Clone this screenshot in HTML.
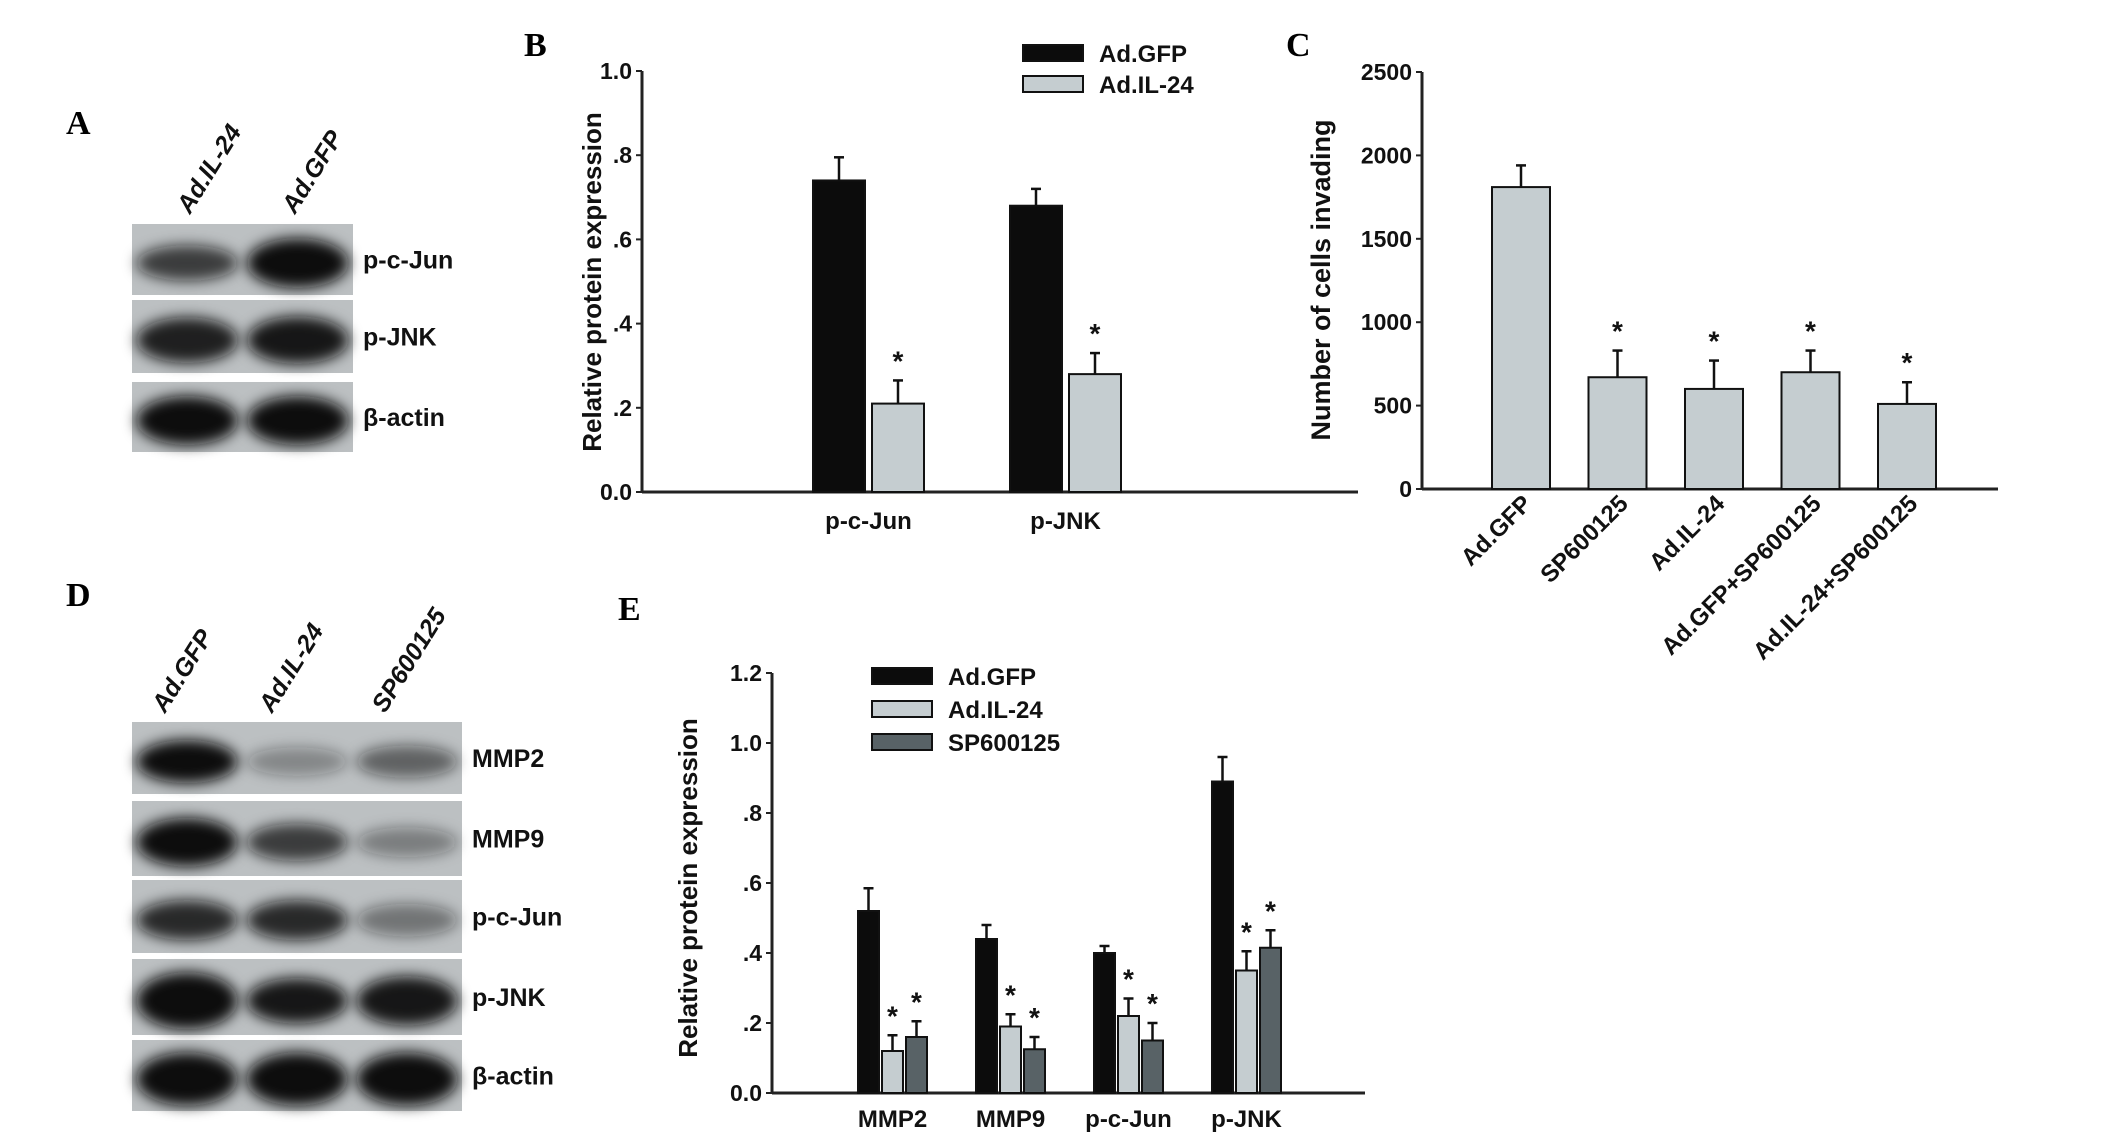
<!DOCTYPE html>
<html><head><meta charset="utf-8">
<style>
html,body{margin:0;padding:0;background:#fff;}
body{width:2126px;height:1143px;position:relative;overflow:hidden;font-family:"Liberation Sans",sans-serif;}
svg text{font-family:"Liberation Sans",sans-serif;font-weight:bold;}
.pl{font-family:"Liberation Serif",serif;font-weight:bold;font-size:34px;}
</style></head>
<body>
<svg id="root" width="2126" height="1143" xmlns="http://www.w3.org/2000/svg">
<defs>
<filter id="blur" x="-30%" y="-60%" width="160%" height="220%"><feGaussianBlur stdDeviation="7"/></filter>
</defs>
<text class="pl" x="66" y="134">A</text>
<text class="pl" x="524" y="56">B</text>
<text class="pl" x="1286" y="56">C</text>
<text class="pl" x="66" y="606">D</text>
<text class="pl" x="618" y="620">E</text>
<g id="blots"></g>
<g id="chartB"></g>
<g id="chartC"></g>
<g id="chartE"></g>
</svg>
<script>
// ---- data ----
const bCategories = ["p-c-Jun","p-JNK"];
const bSeriesNames = ["Ad.GFP","Ad.IL-24"];
const bGFP = [0.74,0.68];
const bGFPErr = [0.055,0.04];
const bIL24 = [0.21,0.28];
const bIL24Err = [0.055,0.05];
const bTicks = ["0.0",".2",".4",".6",".8","1.0"];

const cCategories = ["Ad.GFP","SP600125","Ad.IL-24","Ad.GFP+SP600125","Ad.IL-24+SP600125"];
const cValues = [1810,670,600,700,510];
const cErr = [130,160,170,130,130];
const cStars = [false,true,true,true,true];
const cTicks = ["0","500","1000","1500","2000","2500"];

const eCategories = ["MMP2","MMP9","p-c-Jun","p-JNK"];
const eSeriesNames = ["Ad.GFP","Ad.IL-24","SP600125"];
const eGFP = [0.52,0.44,0.40,0.89];
const eGFPErr = [0.065,0.04,0.02,0.07];
const eIL24 = [0.12,0.19,0.22,0.35];
const eIL24Err = [0.045,0.035,0.05,0.055];
const eSP = [0.16,0.125,0.15,0.415];
const eSPErr = [0.045,0.035,0.05,0.05];
const eTicks = ["0.0",".2",".4",".6",".8","1.0","1.2"];

const NS="http://www.w3.org/2000/svg";
function mk(tag,attrs,parent){const e=document.createElementNS(NS,tag);for(const k in attrs)e.setAttribute(k,attrs[k]);parent.appendChild(e);return e;}

function yAxis(g,x,y0,y1,ticks,maxV,fs){
  const ax=mk('line',{x1:x,y1:y0,x2:x,y2:y1,stroke:'#222','stroke-width':3},g);
  
  
  ticks.forEach((t,i)=>{
    const v=maxV*i/(ticks.length-1);
    const y=y0-(y0-y1)*v/maxV;
    mk('line',{x1:x-6,y1:y,x2:x,y2:y,stroke:'#222','stroke-width':2},g);
    const tx=mk('text',{x:x-10,y:y+8,'text-anchor':'end','font-size':fs,fill:'#111'},g);
    tx.textContent=t;
    
    
  });
}
function bar(g,x,w,v,err,y0,scale,fill,star,name){
  const top=y0-v*scale;
  const r=mk('rect',{x:x,y:top,width:w,height:v*scale,fill:fill,stroke:'#111','stroke-width':2},g);
  
  
  const et=top-err*scale, cx=x+w/2;
  mk('line',{x1:cx,y1:top,x2:cx,y2:et,stroke:'#111','stroke-width':2.5},g);
  mk('line',{x1:cx-5,y1:et,x2:cx+5,y2:et,stroke:'#111','stroke-width':2.5},g);
  if(star){
    const s=mk('text',{x:cx,y:et-10,'text-anchor':'middle','font-size':28,fill:'#111'},g);
    s.textContent='*';
    
    
  }
}
function legend(g,x,y,names,fills,dy){
  names.forEach((n,i)=>{
    const r=mk('rect',{x:x,y:y+i*dy-8,width:60,height:16,fill:fills[i],stroke:'#111','stroke-width':2},g);
    
    
    const t=mk('text',{x:x+76,y:y+i*dy+9,'font-size':24,fill:'#111'},g);
    t.textContent=n;
    
    
  });
}
const LIGHT='#c5cdd0', DARK='#586266';

// ---- Chart B ----
(function(){
  const g=document.getElementById('chartB');
  const ax=642,y0=492,y1=71,maxV=1.0,scale=(y0-y1)/maxV;
  yAxis(g,ax,y0,y1,bTicks,maxV,23);
  mk('line',{x1:ax,y1:y0,x2:1358,y2:y0,stroke:'#222','stroke-width':3},g);
  const gx=[813,1010], w=52, gap=7;
  bCategories.forEach((c,i)=>{
    bar(g,gx[i],w,bGFP[i],bGFPErr[i],y0,scale,'#0c0c0c',false,'bar-gfp-'+c);
    bar(g,gx[i]+w+gap,w,bIL24[i],bIL24Err[i],y0,scale,LIGHT,true,'bar-il24-'+c);
    const t=mk('text',{x:gx[i]+w+gap/2,y:529,'text-anchor':'middle','font-size':24,fill:'#111'},g);
    t.textContent=c;
    
    
  });
  const tt=mk('text',{x:0,y:0,'text-anchor':'middle','font-size':26,fill:'#111',transform:'translate(601,282) rotate(-90)'},g);
  tt.textContent='Relative protein expression';
  
  
  legend(g,1023,53,bSeriesNames,['#0c0c0c',LIGHT],31);
})();

// ---- Chart C ----
(function(){
  const g=document.getElementById('chartC');
  const ax=1422,y0=489,y1=72,maxV=2500,scale=(y0-y1)/maxV;
  yAxis(g,ax,y0,y1,cTicks,maxV,23);
  mk('line',{x1:ax,y1:y0,x2:1998,y2:y0,stroke:'#222','stroke-width':3},g);
  const start=1492, step=96.5, w=58;
  cCategories.forEach((c,i)=>{
    const x=start+i*step;
    bar(g,x,w,cValues[i],cErr[i],y0,scale,LIGHT,cStars[i],'bar-'+c);
    const cx=x+w/2;
    const t=mk('text',{x:0,y:0,'text-anchor':'end','font-size':24,fill:'#111',transform:'translate('+(cx+12)+',505) rotate(-45)'},g);
    t.textContent=c;
    
    
  });
  const tt=mk('text',{x:0,y:0,'text-anchor':'middle','font-size':27,fill:'#111',transform:'translate(1330,280) rotate(-90)'},g);
  tt.textContent='Number of cells invading';
  
  
})();

// ---- Chart E ----
(function(){
  const g=document.getElementById('chartE');
  const ax=772,y0=1093,y1=673,maxV=1.2,scale=(y0-y1)/maxV;
  yAxis(g,ax,y0,y1,eTicks,maxV,23);
  mk('line',{x1:ax,y1:y0,x2:1365,y2:y0,stroke:'#222','stroke-width':3},g);
  const start=858, step=118, w=21, gap=3;
  eCategories.forEach((c,i)=>{
    const x=start+i*step;
    bar(g,x,w,eGFP[i],eGFPErr[i],y0,scale,'#0c0c0c',false,'bar-gfp-'+c);
    bar(g,x+w+gap,w,eIL24[i],eIL24Err[i],y0,scale,LIGHT,true,'bar-il24-'+c);
    bar(g,x+2*(w+gap),w,eSP[i],eSPErr[i],y0,scale,DARK,true,'bar-sp-'+c);
    const t=mk('text',{x:x+(3*w+2*gap)/2,y:1127,'text-anchor':'middle','font-size':24,fill:'#111'},g);
    t.textContent=c;
    
    
  });
  const tt=mk('text',{x:0,y:0,'text-anchor':'middle','font-size':26,fill:'#111',transform:'translate(697,888) rotate(-90)'},g);
  tt.textContent='Relative protein expression';
  
  
  legend(g,872,676,eSeriesNames,['#0c0c0c',LIGHT,DARK],33);
})();

// ---- Western blots ----
(function(){
  const g=document.getElementById('blots');
  function blot(x,y,w,h,bands,label,name){
    const bg=mk('rect',{x:x,y:y,width:w,height:h,fill:'#bcc0c2'},g);
    
    
    const lw=w/bands.length;
    bands.forEach((b,i)=>{
      mk('ellipse',{cx:x+lw*i+lw/2,cy:y+h*0.55,rx:lw*0.46,ry:h*0.25*b[1],fill:'#111','fill-opacity':b[0],filter:'url(#blur)'},g);
    });
    const t=mk('text',{x:x+w+10,y:y+h/2+9,'font-size':25,fill:'#111'},g);
    t.textContent=label;
    
    
  }
  blot(132,224,221,71,[[0.75,1.0],[1,1.4]],'p-c-Jun','blot-a-pcjun');
  blot(132,300,221,73,[[0.9,1.25],[0.95,1.3]],'p-JNK','blot-a-pjnk');
  blot(132,382,221,70,[[1,1.4],[1,1.4]],'β-actin','blot-a-actin');
  [['Ad.IL-24',190],['Ad.GFP',295]].forEach(l=>{
    const t=mk('text',{x:0,y:0,'font-size':25,'font-style':'italic',fill:'#111',transform:'translate('+l[1]+',215) rotate(-58)'},g);
    t.textContent=l[0];
    
    
  });
  blot(132,722,330,72,[[1,1.2],[0.35,0.8],[0.55,0.9]],'MMP2','blot-d-mmp2');
  blot(132,801,330,75,[[1,1.3],[0.75,1],[0.4,0.8]],'MMP9','blot-d-mmp9');
  blot(132,880,330,73,[[0.85,1.1],[0.85,1.1],[0.45,0.9]],'p-c-Jun','blot-d-pcjun');
  blot(132,959,330,76,[[1,1.5],[0.95,1.2],[0.95,1.3]],'p-JNK','blot-d-pjnk');
  blot(132,1040,330,71,[[1,1.5],[1,1.5],[1,1.5]],'β-actin','blot-d-actin');
  [['Ad.GFP',165],['Ad.IL-24',272],['SP600125',385]].forEach(l=>{
    const t=mk('text',{x:0,y:0,'font-size':25,'font-style':'italic',fill:'#111',transform:'translate('+l[1]+',714) rotate(-58)'},g);
    t.textContent=l[0];
    
    
  });
})();
</script>
</body></html>
